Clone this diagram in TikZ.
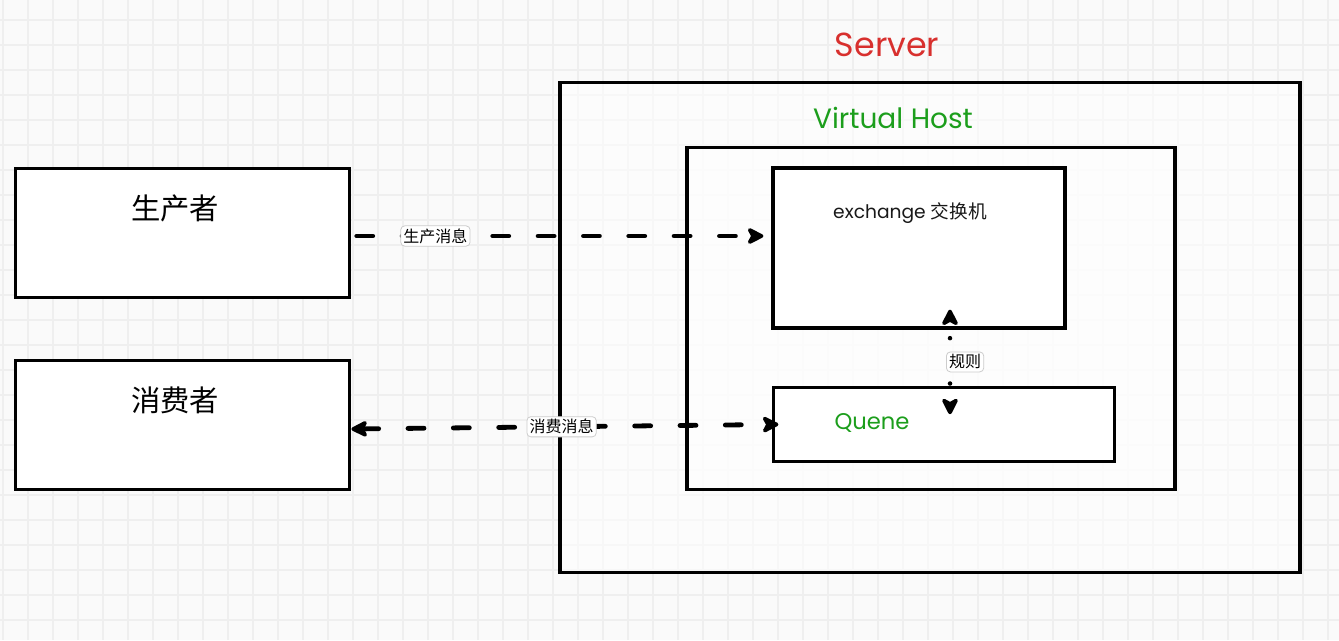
\documentclass[tikz,border=0pt]{standalone}
\usepackage{fontspec}
\setmainfont{Poppins}
\newfontfamily\cjk{Noto Sans CJK SC}
\usetikzlibrary{arrows.meta,calc}
\definecolor{servred}{HTML}{D8302E}
\definecolor{hostgreen}{HTML}{1C9E1C}
\definecolor{gridgray}{HTML}{EFEFEF}
\definecolor{paper}{HTML}{FAFAFA}
\tikzset{
  box/.style={draw, line width=2.4pt, fill=white, inner sep=0pt},
  shell/.style={box, fill opacity=0.55, text opacity=1},
  flow/.style={line width=3.6pt, line cap=round, dash pattern=on 12pt off 22pt},
  rule/.style={line width=3.4pt, line cap=round, dash pattern=on 0pt off 34pt, dash phase=21pt},
  tag/.style={draw=black!20, solid, line width=0.6pt, fill=white, rounded corners=3pt, inner sep=2pt,
    font=\cjk\fontsize{12}{14}\selectfont},
}
\begin{document}
\begin{tikzpicture}[x=0.75pt, y=-0.75pt, >={Stealth[length=15pt,width=15pt,inset=4pt,round]}]
    \useasboundingbox (0,0) rectangle (1339,640);
    % paper and grid
    \fill[paper] (0,0) rectangle (1339,640);
    \foreach \gx in {3,28,...,1339}
        \draw[gridgray, line width=1.2pt] (\gx,0) -- (\gx,640);
    \foreach \gy in {20,45,...,640}
        \draw[gridgray, line width=1.2pt] (0,\gy) -- (1339,\gy);

    % outer boxes
    \node[shell, minimum width=555pt, minimum height=368pt] (server) at (930,327.5) {};
    \node[shell, minimum width=366pt, minimum height=257pt] (vhost) at (931,318.5) {};
    \node[box, minimum width=219pt, minimum height=120pt] (exchange) at (919,248) {};
    \node[box, minimum width=256pt, minimum height=55pt] (quene) at (944,424.5) {};
    \node[box, minimum width=251pt, minimum height=97pt] (producer) at (182.5,233) {};
    \node[box, minimum width=251pt, minimum height=97pt] (consumer) at (182.5,425) {};

    % titles
    \node[servred, font=\fontsize{25}{30}\selectfont] (servertitle) at (887,45) {Server};
    \node[hostgreen, font=\fontsize{21}{26}\selectfont] (vhosttitle) at (893,118) {Virtual Host};
    \node[black!90, font=\fontsize{14}{18}\selectfont] (exchangetitle) at (910,213) {exchange {\cjk 交换机}};
    \node[hostgreen, font=\fontsize{17}{22}\selectfont] (quenetitle) at (872,423) {Quene};
    \node[font=\cjk\fontsize{22}{26}\selectfont] (producertitle) at (175,208) {生产者};
    \node[font=\cjk\fontsize{22}{26}\selectfont] (consumertitle) at (175,400) {消费者};

    % connectors
    \coordinate (rulex) at (950,0);
    \draw[flow, ->, shorten <=4pt, shorten >=6pt] ($(producer.east)+(0,3)$) -- ($(exchange.west)+(0,-12)$)
        node[tag, pos=0.2] (sendtag) {生产消息};
    \draw[flow, <->, shorten >=-5pt] ($(consumer.east)+(0,4)$) -- (quene.west)
        node[tag, pos=0.5] (taketag) {消费消息};
    \draw[rule, <->] ($(exchange.south -| rulex)+(0,-20)$) -- ($(quene.north -| rulex)+(0,28)$)
        node[tag, pos=0.5, anchor=west, xshift=-3pt] (ruletag) {规则};
\end{tikzpicture}
\end{document}
